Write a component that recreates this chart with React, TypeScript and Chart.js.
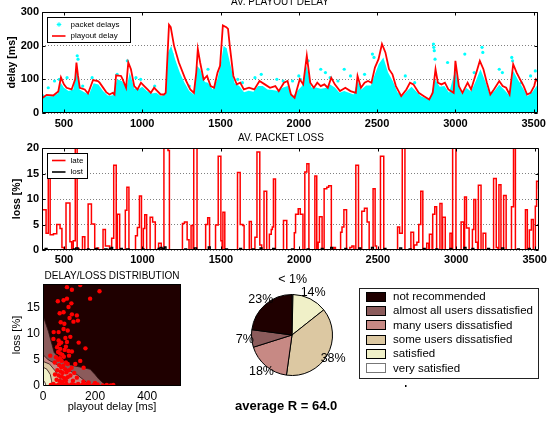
import React, { useEffect, useRef } from 'react';
import { Chart, registerables } from 'chart.js';

Chart.register(...registerables);

const FONT = '"Liberation Sans", Arial, Helvetica, sans-serif';

// ---------- AV. PLAYOUT DELAY ----------
const playoutX = [
  360, 390, 432, 464, 481, 500, 517, 549, 572, 580,
  590, 601, 633, 654, 686, 717, 728, 770, 791, 812,
  823, 833, 865, 875, 897, 911, 928, 949, 970, 992,
  1013, 1034, 1055, 1076, 1097, 1118, 1139, 1150, 1171, 1182,
  1203, 1234, 1276, 1307, 1330, 1345, 1355, 1370, 1392, 1414,
  1437, 1459, 1481, 1497, 1515, 1537, 1548, 1559, 1582, 1604,
  1626, 1649, 1682, 1716, 1749, 1783, 1816, 1850, 1872, 1905,
  1928, 1950, 1973, 2006, 2028, 2051, 2073, 2096, 2118, 2140,
  2163, 2185, 2207, 2230, 2263, 2297, 2330, 2364, 2375, 2397,
  2420, 2442, 2464, 2486, 2509, 2531, 2553, 2576, 2598, 2620,
  2654, 2687, 2710, 2732, 2766, 2799, 2833, 2855, 2873, 2888,
  2911, 2933, 2955, 2989, 3000, 3022, 3045, 3078, 3100, 3134,
  3156, 3179, 3201, 3223, 3246, 3280, 3302, 3324, 3346, 3369,
  3391, 3413, 3436, 3458, 3480, 3503, 3514, 3525,
];
const playoutY = [
  44, 54, 52, 64, 106, 85, 75, 70, 100, 150,
  110, 75, 70, 58, 98, 95, 90, 62, 55, 60,
  55, 112, 110, 100, 75, 150, 130, 80, 70, 90,
  80, 70, 60, 75, 65, 55, 55, 60, 262, 255,
  200, 150, 100, 70, 60, 120, 190, 150, 100, 110,
  80, 75, 120, 140, 260, 255, 250, 200, 110, 85,
  90, 70, 75, 70, 95, 85, 75, 80, 65, 90,
  95, 55, 45, 100, 85, 170, 90, 75, 90, 80,
  85, 75, 105, 85, 65, 75, 65, 60, 110, 75,
  90, 95, 90, 135, 160, 205, 180, 130, 115, 80,
  50, 70, 90, 85, 60, 50, 40, 60, 130, 90,
  85, 90, 70, 60, 155, 80, 60, 90, 70, 120,
  155, 130, 90, 55, 70, 95, 80, 75, 55, 145,
  120, 100, 80, 55, 60, 80, 100, 95,
];
// top of the dense cloud of packet delays
const bandX = [
  360, 380, 400, 430, 460, 480, 500, 530, 560, 580,
  600, 630, 660, 690, 720, 750, 780, 810, 840, 870,
  900, 920, 950, 980, 1000, 1030, 1060, 1090, 1120, 1150,
  1165, 1185, 1210, 1240, 1270, 1300, 1330, 1350, 1370, 1400,
  1420, 1450, 1480, 1500, 1520, 1540, 1560, 1590, 1620, 1650,
  1680, 1710, 1740, 1770, 1800, 1830, 1860, 1900, 1930, 1960,
  1990, 2020, 2050, 2080, 2110, 2140, 2170, 2200, 2230, 2260,
  2290, 2320, 2350, 2375, 2400, 2430, 2460, 2490, 2510, 2540,
  2570, 2600, 2630, 2660, 2690, 2720, 2750, 2780, 2810, 2840,
  2870, 2900, 2930, 2960, 3000, 3010, 3040, 3070, 3100, 3130,
  3160, 3190, 3220, 3250, 3280, 3310, 3340, 3370, 3400, 3430,
  3460, 3490, 3525,
];
const bandY = [
  60, 50, 50, 50, 58, 90, 75, 65, 70, 140,
  70, 62, 55, 88, 85, 65, 52, 52, 100, 95,
  75, 120, 72, 72, 78, 65, 58, 60, 50, 58,
  180, 200, 160, 120, 90, 65, 55, 140, 130, 92,
  90, 70, 100, 140, 200, 190, 150, 88, 80, 62,
  66, 63, 80, 80, 70, 68, 66, 76, 80, 48,
  65, 80, 140, 76, 76, 72, 74, 85, 76, 60,
  65, 60, 55, 95, 70, 82, 82, 120, 145, 165,
  120, 95, 62, 50, 65, 78, 64, 50, 44, 45,
  100, 78, 80, 60, 130, 105, 58, 74, 64, 95,
  130, 95, 54, 66, 84, 70, 54, 125, 98, 75,
  50, 62, 84,
];
const outlierX = [
  400, 440, 470, 520, 585, 590, 620, 680, 840, 905,
  960, 990, 1080, 1190, 1300, 1420, 1530, 1610, 1640, 1720,
  1760, 1860, 1900, 1960, 2000, 2010, 2060, 2140, 2170, 2200,
  2250, 2290, 2330, 2420, 2470, 2480, 2560, 2680, 2740, 2860,
  2862, 2865, 2870, 2950, 3060, 3120, 3170, 3175, 3280, 3300,
  3360, 3365, 3420, 3480, 3510,
];
const outlierY = [
  75, 95, 100, 105, 170, 160, 80, 105, 115, 155,
  105, 100, 80, 175, 80, 130, 190, 100, 90, 105,
  115, 100, 95, 95, 110, 100, 155, 130, 120, 105,
  95, 130, 110, 115, 175, 165, 110, 110, 90, 205,
  195, 185, 160, 150, 175, 120, 195, 180, 130, 120,
  165, 155, 90, 110, 125,
];
const timeTicks = [500, 1000, 1500, 2000, 2500, 3000, 3500];
const delayTicks = [0, 100, 200, 300];

// ---------- AV. PACKET LOSS (stairs: level from x[i] to x[i+1]) ----------
const lateX = [
  360, 386, 400, 412, 433, 454, 475, 487, 500, 513,
  538, 549, 559, 572, 584, 596, 618, 633, 654, 675,
  696, 711, 720, 749, 764, 791, 804, 817, 833, 840,
  855, 891, 901, 914, 956, 968, 981, 994, 1006, 1015,
  1027, 1049, 1065, 1082, 1103, 1120, 1137, 1163, 1172, 1255,
  1268, 1285, 1297, 1310, 1323, 1327, 1348, 1403, 1416, 1428,
  1466, 1483, 1500, 1508, 1513, 1525, 1606, 1623, 1640, 1648,
  1681, 1694, 1717, 1730, 1748, 1760, 1775, 1792, 1809, 1821,
  1828, 1835, 1848, 1899, 1920, 1968, 1976, 1993, 2006, 2023,
  2035, 2048, 2061, 2099, 2111, 2120, 2128, 2145, 2158, 2175,
  2187, 2204, 2220, 2230, 2263, 2272, 2284, 2301, 2322, 2335,
  2348, 2360, 2377, 2398, 2415, 2432, 2445, 2470, 2483, 2492,
  2517, 2538, 2626, 2639, 2656, 2673, 2711, 2728, 2732, 2749,
  2761, 2774, 2787, 2812, 2825, 2829, 2846, 2850, 2863, 2875,
  2896, 2909, 2913, 2930, 2960, 2972, 2977, 2998, 3031, 3048,
  3053, 3065, 3082, 3103, 3112, 3124, 3136, 3141, 3158, 3171,
  3188, 3238, 3255, 3266, 3272, 3285, 3302, 3318, 3352, 3365,
  3377, 3441, 3453, 3466, 3479, 3491, 3504, 3512, 3525,
];
const lateY = [
  7.9, 3.3, 14.5, 3.0, 3.2, 5.0, 4.2, 0.5, 0, 9.2,
  1.6, 0, 1.8, 22, 0.3, 0, 2.6, 0, 9.0, 5.1,
  0, 0.4, 0, 4.0, 0.8, 0, 2.3, 16.6, 0, 7.0,
  0, 7.8, 12.3, 0, 2.8, 4.4, 10.6, 0, 4.2, 6.9,
  0, 6.4, 5.5, 0, 1.3, 0, 22, 19.5, 0, 5.2,
  5.5, 2.0, 0, 4.8, 0, 22, 0, 5.0, 6.3, 0,
  4.9, 18.4, 1.8, 0, 7.4, 0, 15.2, 5.0, 4.8, 0,
  5.6, 0, 2.5, 19.2, 1.0, 0, 11.5, 0, 3.1, 4.0,
  4.5, 13.9, 0, 5.8, 0, 3.4, 7.0, 8.1, 7.0, 0,
  15.3, 16.9, 0, 14.5, 0, 1.5, 6.5, 0, 12.0, 12.3,
  12.6, 0, 0.5, 0, 3.5, 4.5, 7.9, 0, 0.5, 0.8,
  0, 16.6, 0, 7.6, 8.2, 5.5, 0, 12.0, 0.8, 0,
  18.4, 0, 4.5, 3.3, 22, 0, 3.5, 0, 1.0, 1.5,
  5.0, 11.5, 0, 1.3, 0, 3.1, 0, 7.0, 8.5, 0,
  9.1, 0, 6.4, 0, 3.3, 0, 22, 0, 5.5, 0,
  10.4, 4.3, 0, 4.0, 9.9, 1.5, 0, 12.7, 0, 3.3,
  0, 14.0, 0.5, 0, 12.8, 0, 10.7, 0, 8.5, 22,
  0, 7.9, 0, 3.9, 6.0, 0, 8.6, 13.5, 12,
];
const lostX = [
  360, 380, 392, 560, 575, 590, 650, 660, 700, 712,
  760, 775, 790, 800, 810, 860, 872, 900, 915, 1000,
  1010, 1100, 1112, 1125, 1140, 1150, 1270, 1282, 1330, 1345,
  1420, 1432, 1530, 1542, 1620, 1632, 1700, 1712, 1750, 1762,
  1830, 1845, 1950, 1962, 2050, 2062, 2140, 2152, 2200, 2212,
  2290, 2302, 2380, 2392, 2460, 2472, 2540, 2552, 2640, 2652,
  2700, 2712, 2790, 2802, 2870, 2882, 2960, 2972, 3050, 3062,
  3100, 3112, 3200, 3212, 3290, 3302, 3390, 3402, 3460, 3472,
  3525,
];
const lostY = [
  0, 0.3, 0, 0.2, 0.4, 0, 0.2, 0, 0.3, 0,
  0.2, 0, 0.3, 0.5, 0, 0.3, 0, 0.2, 0, 0.2,
  0, 0.3, 0.5, 0.3, 0.6, 0, 0.2, 0, 0.4, 0,
  0.6, 0, 0.2, 0, 0.3, 0, 0.2, 0, 0.4, 0,
  0.3, 0, 0.2, 0, 0.2, 0, 0.3, 0, 0.5, 0,
  0.3, 0, 0.4, 0, 0.5, 0, 0.3, 0, 0.4, 0,
  0.2, 0, 0.3, 0, 0.2, 0, 0.3, 0, 0.5, 0,
  0.3, 0, 0.3, 0, 0.4, 0, 0.2, 0, 0.3, 0,
  0,
];
const lossTicks = [0, 5, 10, 15, 20];

// ---------- DELAY/LOSS DISTRIBUTION ----------
const distDelay = [
  92, 111, 143, 217, 57, 79, 92, 109, 181, 64,
  79, 98, 111, 130, 102, 68, 82, 117, 134, 41,
  60, 79, 95, 40, 60, 70, 86, 105, 137, 163,
  54, 66, 83, 98, 111, 28, 50, 58, 65, 72,
  80, 88, 95, 62, 70, 78, 85, 55, 68, 75,
  90, 100, 110, 60, 72, 82, 95, 105, 120, 64,
  76, 88, 52, 143, 124, 156, 130, 46, 115, 66,
  74, 58, 88, 45, 100, 30, 40, 50, 60, 70,
  80, 90, 100, 110, 120, 135, 150, 165, 180, 195,
  210, 230, 245, 260, 270, 155, 175, 200, 62, 92,
];
const distLoss = [
  18.9, 18.4, 19.3, 18.1, 16.2, 16.4, 16.7, 15.8, 16.7, 13.9,
  14.1, 15.1, 13.7, 13.5, 13.0, 12.2, 11.9, 12.3, 12.5, 10.3,
  10.3, 10.9, 10.6, 9.0, 8.7, 8.3, 9.2, 9.4, 8.3, 7.2,
  7.4, 7.1, 6.9, 6.7, 6.6, 5.8, 5.5, 5.0, 5.3, 4.8,
  5.6, 4.5, 4.2, 4.0, 3.6, 3.9, 3.2, 3.0, 2.8, 2.5,
  2.6, 3.0, 3.5, 2.0, 1.8, 1.5, 1.7, 2.0, 2.5, 1.0,
  0.8, 1.1, 1.2, 4.8, 4.2, 3.5, 1.6, 2.2, 1.0, 6.2,
  6.0, 6.5, 7.5, 4.5, 5.8, 0.2, 0.4, 0.1, 0.3, 0.5,
  0.2, 0.4, 0.1, 0.3, 0.2, 0.4, 0.2, 0.3, 0.1, 0.2,
  0.3, 0.1, 0.2, 0.1, 0.2, 0.8, 0.7, 0.6, 8.0, 8.4,
];
const brownX = [0, 21, 43, 70, 105, 145, 181, 200, 213, 243];
const brownY = [13.5, 10.4, 6.4, 5.0, 4.0, 3.6, 3.2, 2.2, 1.4, 0];
const pinkX = [0, 20, 50, 90, 130, 160, 180];
const pinkY = [6.0, 5.0, 4.2, 3.2, 2.2, 1.0, 0];
const tanX = [0, 25, 45, 60, 75, 90];
const tanY = [4.7, 4.2, 3.0, 1.8, 0.8, 0];
const yellowX = [0, 15, 28, 33, 36];
const yellowY = [3.6, 3.2, 2.2, 1.0, 0];
const whiteX = [0, 8, 12];
const whiteY = [1.2, 0.6, 0];
const distTicksX = [0, 200, 400];
const distTicksY = [0, 5, 10, 15];

// ---------- QUALITY PIE ----------
const qualityLabels = [
  'very satisfied',
  'satisfied',
  'some users dissatisfied',
  'many users dissatisfied',
  'almost all users dissatisfied',
  'not recommended',
];
const qualityShares = [0.4, 14, 38, 18, 7, 23];
const qualityColors = ['#ffffff', '#f0f0c8', '#dcc8a2', '#c78984', '#8b5b5b', '#1f0000'];
const legendOrder = [5, 4, 3, 2, 1, 0];
const averageR = '64.0';

// ---------- helpers ----------
const pts = (xs: number[], ys: number[]) => xs.map((x, i) => ({ x, y: ys[i] }));
const fixedTicks = (values: number[]) => (scale: any) => {
  scale.ticks = values.map((v) => ({ value: v }));
};
const plainLabel = (v: any) => String(v);

function framePlugin(tickLen: number) {
  return {
    id: 'frame',
    afterDatasetsDraw(chart: any) {
      const { ctx, chartArea: a, scales } = chart;
      ctx.save();
      ctx.strokeStyle = '#000';
      ctx.lineWidth = 1;
      const l = Math.round(a.left) + 0.5;
      const t = Math.round(a.top) + 0.5;
      const r = Math.round(a.right) - 0.5;
      const b = Math.round(a.bottom) - 0.5;
      ctx.beginPath();
      if (tickLen > 0) {
        for (const tk of scales.x.ticks) {
          const px = Math.round(scales.x.getPixelForValue(tk.value)) + 0.5;
          ctx.moveTo(px, b);
          ctx.lineTo(px, b - tickLen);
          ctx.moveTo(px, t);
          ctx.lineTo(px, t + tickLen);
        }
        for (const tk of scales.y.ticks) {
          const py = Math.round(scales.y.getPixelForValue(tk.value)) + 0.5;
          ctx.moveTo(l, py);
          ctx.lineTo(l + tickLen, py);
          ctx.moveTo(r, py);
          ctx.lineTo(r - tickLen, py);
        }
      }
      ctx.rect(l, t, r - l, b - t);
      ctx.stroke();
      ctx.restore();
    },
  };
}

type Entry = { text: string; kind: 'star' | 'line'; color: string };
function boxLegendPlugin(entries: Entry[], width: number) {
  return {
    id: 'boxLegend',
    afterDatasetsDraw(chart: any) {
      const { ctx, chartArea: a } = chart;
      const x = Math.round(a.left) + 5.5;
      const y = Math.round(a.top) + 5.5;
      const h = 25;
      ctx.save();
      ctx.fillStyle = '#fff';
      ctx.fillRect(x, y, width, h);
      ctx.strokeStyle = '#000';
      ctx.lineWidth = 1;
      ctx.strokeRect(x, y, width, h);
      ctx.font = `8px ${FONT}`;
      ctx.textBaseline = 'middle';
      ctx.textAlign = 'left';
      entries.forEach((e, i) => {
        const cy = y + 7 + i * 11.5;
        ctx.strokeStyle = e.color;
        if (e.kind === 'line') {
          ctx.lineWidth = 1.6;
          ctx.beginPath();
          ctx.moveTo(x + 4.5, cy);
          ctx.lineTo(x + 18, cy);
          ctx.stroke();
        } else {
          ctx.lineWidth = 1;
          const cx = x + 11.5;
          const r = 2.3;
          const d = r * 0.7;
          ctx.beginPath();
          ctx.moveTo(cx - r, cy); ctx.lineTo(cx + r, cy);
          ctx.moveTo(cx, cy - r); ctx.lineTo(cx, cy + r);
          ctx.moveTo(cx - d, cy - d); ctx.lineTo(cx + d, cy + d);
          ctx.moveTo(cx - d, cy + d); ctx.lineTo(cx + d, cy - d);
          ctx.stroke();
        }
        ctx.fillStyle = '#000';
        ctx.fillText(e.text, x + 23, cy);
      });
      ctx.restore();
    },
  };
}

const darkBackground = {
  id: 'darkBg',
  beforeDatasetsDraw(chart: any) {
    const { ctx, chartArea: a } = chart;
    ctx.save();
    ctx.fillStyle = qualityColors[5];
    ctx.fillRect(a.left, a.top, a.right - a.left, a.bottom - a.top);
    ctx.restore();
  },
};

const pieExtras = {
  id: 'pieExtras',
  afterDatasetsDraw(chart: any) {
    const { ctx } = chart;
    const meta = chart.getDatasetMeta(0);
    const total = qualityShares.reduce((s, v) => s + v, 0);
    ctx.save();
    ctx.fillStyle = '#000';
    ctx.font = `12.5px ${FONT}`;
    ctx.textAlign = 'center';
    ctx.textBaseline = 'middle';
    meta.data.forEach((arc: any, i: number) => {
      const p = arc.getProps(['x', 'y', 'startAngle', 'endAngle', 'outerRadius'], true);
      const mid = (p.startAngle + p.endAngle) / 2;
      const pct = (qualityShares[i] / total) * 100;
      const text = pct < 1 ? '< 1%' : `${Math.round(pct)}%`;
      const d = p.outerRadius * 1.17;
      const lx = p.x + Math.cos(mid) * d;
      let ly = p.y + Math.sin(mid) * d;
      if (Math.sin(mid) < -0.97) ly -= 8;
      ctx.fillText(text, lx, ly);
    });

    // legend box
    const bx = 137.5, by = 24.5, bw = 179, bh = 90;
    ctx.fillStyle = '#fff';
    ctx.fillRect(bx, by, bw, bh);
    ctx.strokeStyle = '#222';
    ctx.lineWidth = 1;
    ctx.strokeRect(bx, by, bw, bh);
    ctx.font = `11.5px ${FONT}`;
    ctx.textAlign = 'left';
    legendOrder.forEach((idx, row) => {
      const cy = 32.7 + row * 14.33;
      ctx.fillStyle = qualityColors[idx];
      ctx.fillRect(144, Math.round(cy - 5), 20, 10);
      ctx.strokeStyle = idx === 0 ? '#777' : '#000';
      ctx.strokeRect(144.5, Math.round(cy - 5) + 0.5, 19, 9);
      ctx.fillStyle = '#000';
      ctx.fillText(qualityLabels[idx], 171, cy);
    });
    ctx.fillRect(183, 121, 1.5, 2);

    ctx.font = `bold 13px ${FONT}`;
    ctx.fillText(`average R = ${averageR}`, 13, 142);
    ctx.restore();
  },
};

const tickFont = (size: number, bold: boolean) => ({ family: FONT, size, weight: bold ? 'bold' : 'normal' });

function makeDelayChart(ctx: CanvasRenderingContext2D) {
  return new Chart(ctx, {
    type: 'line',
    data: {
      datasets: [
        { label: 'playout delay', data: pts(playoutX, playoutY), borderColor: '#ff0000', borderWidth: 1.8, pointRadius: 0, fill: false, tension: 0, order: 0 } as any,
        { type: 'scatter', label: 'packet delays', data: pts(outlierX, outlierY), backgroundColor: '#00ffff', borderColor: '#00ffff', pointRadius: 1.6, borderWidth: 0, order: 1 } as any,
        { label: 'packet delays band', data: pts(bandX, bandY), backgroundColor: '#00ffff', borderColor: '#00ffff', borderWidth: 0, pointRadius: 0, fill: 'origin', tension: 0, order: 2 } as any,
      ],
    },
    options: {
      animation: false,
      responsive: false,
      layout: { padding: { top: 12, right: 8, left: 0, bottom: 0 } },
      plugins: { legend: { display: false }, tooltip: { enabled: false } },
      scales: {
        x: {
          type: 'linear', min: 360, max: 3525,
          afterBuildTicks: fixedTicks(timeTicks),
          afterFit: (s: any) => { s.height = 19; },
          grid: { display: false, drawTicks: false },
          border: { display: false },
          ticks: { color: '#000', font: tickFont(11, true) as any, padding: 4, maxRotation: 0, autoSkip: false, callback: plainLabel },
        },
        y: {
          type: 'linear', min: 0, max: 300,
          afterBuildTicks: fixedTicks(delayTicks),
          afterFit: (s: any) => { s.width = 42; },
          grid: { color: '#808080', drawTicks: false },
          border: { display: false, dash: [1, 2] },
          ticks: { color: '#000', font: tickFont(11, true) as any, padding: 3, callback: plainLabel },
          title: { display: true, text: 'delay [ms]', color: '#000', font: tickFont(10.5, true) as any, padding: { top: 6, bottom: 0 } },
        },
      },
    } as any,
    plugins: [
      framePlugin(3),
      boxLegendPlugin([
        { text: 'packet delays', kind: 'star', color: '#00ffff' },
        { text: 'playout delay', kind: 'line', color: '#ff0000' },
      ], 83),
    ],
  });
}

function makeLossChart(ctx: CanvasRenderingContext2D) {
  return new Chart(ctx, {
    type: 'line',
    data: {
      datasets: [
        { label: 'lost', data: pts(lostX, lostY), borderColor: '#000000', borderWidth: 1.4, pointRadius: 0, stepped: true, fill: false, order: 0 } as any,
        { label: 'late', data: pts(lateX, lateY), borderColor: '#ff0000', borderWidth: 1.5, pointRadius: 0, stepped: true, fill: false, order: 1 } as any,
      ],
    },
    options: {
      animation: false,
      responsive: false,
      layout: { padding: { top: 16, right: 8, left: 0, bottom: 0 } },
      plugins: { legend: { display: false }, tooltip: { enabled: false } },
      scales: {
        x: {
          type: 'linear', min: 360, max: 3525,
          afterBuildTicks: fixedTicks(timeTicks),
          afterFit: (s: any) => { s.height = 22; },
          grid: { display: false, drawTicks: false },
          border: { display: false },
          ticks: { color: '#000', font: tickFont(11, true) as any, padding: 3, maxRotation: 0, autoSkip: false, callback: plainLabel },
        },
        y: {
          type: 'linear', min: 0, max: 20,
          afterBuildTicks: fixedTicks(lossTicks),
          afterFit: (s: any) => { s.width = 42; },
          grid: { color: '#808080', drawTicks: false },
          border: { display: false, dash: [1, 2] },
          ticks: { color: '#000', font: tickFont(11, true) as any, padding: 3, callback: plainLabel },
          title: { display: true, text: 'loss [%]', color: '#000', font: tickFont(10.5, true) as any, padding: { top: 11, bottom: 0 } },
        },
      },
    } as any,
    plugins: [
      framePlugin(3),
      boxLegendPlugin([
        { text: 'late', kind: 'line', color: '#ff0000' },
        { text: 'lost', kind: 'line', color: '#000000' },
      ], 40),
    ],
  });
}

function makeDistChart(ctx: CanvasRenderingContext2D) {
  const contour = (xs: number[], ys: number[], color: string, order: number) => ({
    data: pts(xs, ys), backgroundColor: color, borderColor: '#2a1010', borderWidth: 0.8,
    pointRadius: 0, fill: 'origin', tension: 0, order,
  });
  return new Chart(ctx, {
    type: 'line',
    data: {
      datasets: [
        { type: 'scatter', label: 'windows', data: pts(distDelay, distLoss), backgroundColor: '#ff0000', borderWidth: 0, pointRadius: 2.2, order: 0 } as any,
        contour(whiteX, whiteY, qualityColors[0], 1) as any,
        contour(yellowX, yellowY, qualityColors[1], 2) as any,
        contour(tanX, tanY, qualityColors[2], 3) as any,
        contour(pinkX, pinkY, qualityColors[3], 4) as any,
        contour(brownX, brownY, qualityColors[4], 5) as any,
      ],
    },
    options: {
      animation: false,
      responsive: false,
      layout: { padding: { top: 12, right: 41, left: 0, bottom: 0 } },
      plugins: { legend: { display: false }, tooltip: { enabled: false } },
      scales: {
        x: {
          type: 'linear', min: 0, max: 530,
          afterBuildTicks: fixedTicks(distTicksX),
          afterFit: (s: any) => { s.height = 35; },
          grid: { display: false, drawTicks: false },
          border: { display: false },
          ticks: { color: '#000', font: tickFont(12, false) as any, padding: 3, maxRotation: 0, autoSkip: false, callback: plainLabel },
          title: { display: true, text: 'playout delay [ms]', color: '#000', font: tickFont(11, false) as any, padding: { top: 0, bottom: 7 } },
        },
        y: {
          type: 'linear', min: 0, max: 19.5,
          afterBuildTicks: fixedTicks(distTicksY),
          afterFit: (s: any) => { s.width = 43; },
          grid: { display: false, drawTicks: false },
          border: { display: false },
          ticks: { color: '#000', font: tickFont(12, false) as any, padding: 3, callback: plainLabel },
          title: { display: true, text: 'loss [%]', color: '#000', font: tickFont(11, false) as any, padding: { top: 10, bottom: 0 } },
        },
      },
    } as any,
    plugins: [darkBackground, framePlugin(0)],
  });
}

function makePieChart(ctx: CanvasRenderingContext2D) {
  return new Chart(ctx, {
    type: 'pie',
    data: {
      labels: qualityLabels,
      datasets: [{ data: qualityShares, backgroundColor: qualityColors, borderColor: '#000', borderWidth: 1 }],
    },
    options: {
      animation: false,
      responsive: false,
      layout: { padding: { left: 29, top: 30, right: 217, bottom: 45 } },
      plugins: { legend: { display: false }, tooltip: { enabled: false } },
    } as any,
    plugins: [pieExtras],
  });
}

function ChartBox(props: { left: number; top: number; width: number; height: number; make: (c: CanvasRenderingContext2D) => Chart }) {
  const ref = useRef<HTMLCanvasElement>(null);
  useEffect(() => {
    const chart = props.make(ref.current!.getContext('2d')!);
    return () => chart.destroy();
  }, []);
  return (
    <canvas
      ref={ref}
      width={props.width}
      height={props.height}
      style={{ position: 'absolute', left: props.left, top: props.top, width: props.width, height: props.height }}
    />
  );
}

const titleStyle = (left: number, top: number, width: number): React.CSSProperties => ({
  position: 'absolute', left, top, width, textAlign: 'center', fontFamily: FONT,
  fontSize: 10, lineHeight: '12px', color: '#000', whiteSpace: 'nowrap',
});

export default function App() {
  return (
    <div style={{ position: 'fixed', left: 0, top: 0, width: 550, height: 421, background: '#fff', overflow: 'hidden' }}>
      <ChartBox left={0} top={0} width={550} height={132} make={makeDelayChart} />
      <ChartBox left={0} top={132} width={550} height={140} make={makeLossChart} />
      <ChartBox left={0} top={272} width={222} height={149} make={makeDistChart} />
      <ChartBox left={222} top={264} width={328} height={157} make={makePieChart} />
      <div style={titleStyle(180, -4, 200)}>AV. PLAYOUT DELAY</div>
      <div style={titleStyle(181, 132, 200)}>AV. PACKET LOSS</div>
      <div style={titleStyle(43, 270, 138)}>DELAY/LOSS DISTRIBUTION</div>
    </div>
  );
}
